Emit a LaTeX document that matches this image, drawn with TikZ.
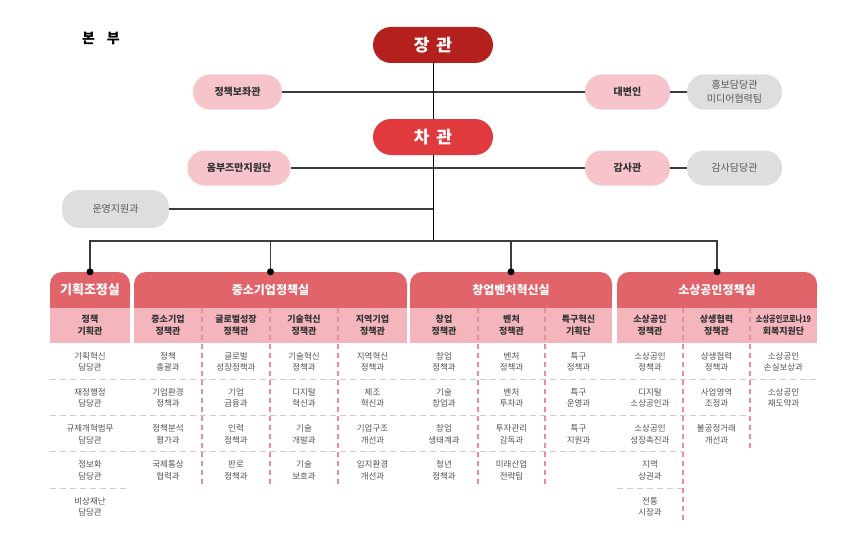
\documentclass[tikz,border=0pt]{standalone}
\usepackage{fontspec}
\setmainfont{Noto Sans CJK KR}
\usepackage{graphicx}
\usetikzlibrary{positioning}
\definecolor{minc}{HTML}{B3201E}
\definecolor{vicec}{HTML}{E0393E}
\definecolor{headc}{HTML}{E0646A}
\definecolor{subc}{HTML}{F4B5BD}
\definecolor{pinkc}{HTML}{F6C4CA}
\definecolor{grayc}{HTML}{DEDEDE}
\definecolor{linec}{HTML}{3C3C3C}
\definecolor{sepc}{HTML}{CCCCCC}
\definecolor{divc}{HTML}{E58E98}

\begin{document}
\begin{tikzpicture}[x=1pt,y=1pt,node distance=36.25pt]
      \tikzstyle{chief}=[rectangle,rounded corners=18pt,minimum width=120pt,minimum height=36pt,text=white,font=\bfseries\fontsize{17}{17}\selectfont]
      \tikzstyle{staff}=[rectangle,rounded corners=17pt,fill=pinkc,minimum height=35pt,text=black!80,font=\bfseries\fontsize{10}{12}\selectfont]
      \tikzstyle{office}=[rectangle,rounded corners=17pt,fill=grayc,minimum width=95pt,minimum height=35pt,text=black!65,align=center,font=\fontsize{10}{14}\selectfont]
      \tikzstyle{dept}=[rectangle,rounded corners=12pt,fill=headc,minimum height=36pt,inner sep=0pt,text=white,font=\bfseries\fontsize{12}{12}\selectfont]
      \tikzstyle{post}=[align=center,inner sep=0pt,text=black!80,font=\bfseries\fontsize{9}{12}\selectfont]
      \tikzstyle{team}=[align=center,inner sep=0pt,text=black!68,font=\fontsize{8.5}{11.5}\selectfont]
      \tikzstyle{link}=[draw=linec,line width=1.1pt]
      \tikzstyle{rowline}=[draw=sepc,line width=0.9pt,dash pattern=on 6pt off 4pt]
      \tikzstyle{divline}=[draw=divc,line width=1.1pt,dash pattern=on 5pt off 4pt]
      \useasboundingbox (0,0) rectangle (865,-543);

      \node [font=\bfseries\fontsize{14}{14}\selectfont] (hq) at (101,-38) {본\hspace{12pt}부};
      \node [chief,fill=minc] (min) at (433,-45) {장\hspace{7pt}관};
      \node [chief,fill=vicec] (vice) at (433,-137) {차\hspace{7pt}관};
      \node [staff,minimum width=89pt] (psa) at (237.5,-92) {정책보좌관};
      \node [staff,minimum width=85pt] (spk) at (627.5,-92) {대변인};
      \node [office] (pr) at (734.5,-92) {홍보담당관\\미디어협력팀};
      \node [staff,minimum width=103pt] (omb) at (239,-168) {옴부즈만지원단};
      \node [staff,minimum width=85pt] (aud) at (627.5,-168) {감사관};
      \node [office] (audo) at (734.5,-168) {감사담당관};
      \node [office,minimum width=107pt,minimum height=38pt] (ops) at (115.5,-209) {운영지원과};
      \coordinate (bus) at (433,-241);

      \path [link] (psa) edge (spk)
      (spk) edge (pr)
      (omb) edge (aud)
      (aud) edge (audo)
      (ops) edge (ops -| bus);
      \draw [black,line width=1pt] (min) -- (vice) -- (bus);

      \fill [headc] (50,-292) rectangle (130,-308);
      \fill [headc] (134,-292) rectangle (407,-308);
      \fill [headc] (410,-292) rectangle (612,-308);
      \fill [headc] (617,-292) rectangle (817,-308);
      \node [dept,minimum width=80pt,font=\bfseries\fontsize{13}{13}\selectfont] (plan) at (90,-290) {기획조정실};
      \node [dept,minimum width=273pt] (sme) at (270.5,-290) {중소기업정책실};
      \node [dept,minimum width=202pt] (ven) at (511,-290) {창업벤처혁신실};
      \node [dept,minimum width=200pt] (sbiz) at (717,-290) {소상공인정책실};
      \fill [subc] (50,-308) rectangle (130,-343);
      \fill [subc] (134,-308) rectangle (407,-343);
      \fill [subc] (410,-308) rectangle (612,-343);
      \fill [subc] (617,-308) rectangle (817,-343);

      \draw [link] (plan.north) |- (bus) -| (sbiz.north);
      \draw [link] (sme.north) -- (sme.north |- bus);
      \draw [link] (ven.north) -- (ven.north |- bus);
      \foreach \n in {plan,sme,ven,sbiz}
        \fill (\n.north) circle (3.5pt);

      \draw [rowline] (50,-379.25) -- (817,-379.25);
      \draw [rowline] (50,-415.5) -- (750,-415.5);
      \draw [rowline] (50,-451.75) -- (683,-451.75);
      \draw [rowline] (50,-488) -- (130,-488);
      \draw [rowline] (617,-488) -- (683,-488);
      \foreach \x in {202,270,338,478,545}
        \draw [divline] (\x,-308) -- (\x,-488);
      \draw [divline] (683,-308) -- (683,-524);
      \draw [divline] (750,-308) -- (750,-452);

      \node [post] (s0) at (90,-325.5) {정책\\기획관};
      \node [post] (s1) at (168,-325.5) {중소기업\\정책관};
      \node [post] (s2) at (236,-325.5) {글로벌성장\\정책관};
      \node [post] (s3) at (304,-325.5) {기술혁신\\정책관};
      \node [post] (s4) at (372.5,-325.5) {지역기업\\정책관};
      \node [post] (s5) at (444,-325.5) {창업\\정책관};
      \node [post] (s6) at (511.5,-325.5) {벤처\\정책관};
      \node [post] (s7) at (578.5,-325.5) {특구혁신\\기획단};
      \node [post] (s8) at (650,-325.5) {소상공인\\정책관};
      \node [post] (s9) at (716.5,-325.5) {상생협력\\정책관};
      \node [post] (s10) at (783.5,-325.5) {\scalebox{0.8}[1]{소상공인코로나19}\\회복지원단};

      \node [team] (p1) [below of=s0] {기획혁신\\담당관};
      \node [team] (p2) [below of=p1] {재정행정\\담당관};
      \node [team] (p3) [below of=p2] {규제개혁법무\\담당관};
      \node [team] (p4) [below of=p3] {정보화\\담당관};
      \node [team] (p5) [below of=p4] {비상재난\\담당관};

      \node [team] (a1) [below of=s1] {정책\\총괄과};
      \node [team] (a2) [below of=a1] {기업환경\\정책과};
      \node [team] (a3) [below of=a2] {정책분석\\평가과};
      \node [team] (a4) [below of=a3] {국제통상\\협력과};
      \node [team] (b1) [below of=s2] {글로벌\\성장정책과};
      \node [team] (b2) [below of=b1] {기업\\금융과};
      \node [team] (b3) [below of=b2] {인력\\정책과};
      \node [team] (b4) [below of=b3] {판로\\정책과};
      \node [team] (c1) [below of=s3] {기술혁신\\정책과};
      \node [team] (c2) [below of=c1] {디지털\\혁신과};
      \node [team] (c3) [below of=c2] {기술\\개발과};
      \node [team] (c4) [below of=c3] {기술\\보호과};
      \node [team] (d1) [below of=s4] {지역혁신\\정책과};
      \node [team] (d2) [below of=d1] {제조\\혁신과};
      \node [team] (d3) [below of=d2] {기업구조\\개선과};
      \node [team] (d4) [below of=d3] {입지환경\\개선과};

      \node [team] (e1) [below of=s5] {창업\\정책과};
      \node [team] (e2) [below of=e1] {기술\\창업과};
      \node [team] (e3) [below of=e2] {창업\\생태계과};
      \node [team] (e4) [below of=e3] {청년\\정책과};
      \node [team] (f1) [below of=s6] {벤처\\정책과};
      \node [team] (f2) [below of=f1] {벤처\\투자과};
      \node [team] (f3) [below of=f2] {투자관리\\감독과};
      \node [team] (f4) [below of=f3] {미래산업\\전략팀};
      \node [team] (g1) [below of=s7] {특구\\정책과};
      \node [team] (g2) [below of=g1] {특구\\운영과};
      \node [team] (g3) [below of=g2] {특구\\지원과};

      \node [team] (h1) [below of=s8] {소상공인\\정책과};
      \node [team] (h2) [below of=h1] {디지털\\소상공인과};
      \node [team] (h3) [below of=h2] {소상공인\\성장촉진과};
      \node [team] (h4) [below of=h3] {지역\\상권과};
      \node [team] (h5) [below of=h4] {전통\\시장과};
      \node [team] (i1) [below of=s9] {상생협력\\정책과};
      \node [team] (i2) [below of=i1] {사업영역\\조정과};
      \node [team] (i3) [below of=i2] {불공정거래\\개선과};
      \node [team] (j1) [below of=s10] {소상공인\\손실보상과};
      \node [team] (j2) [below of=j1] {소상공인\\재도약과};
    \end{tikzpicture}
\end{document}
